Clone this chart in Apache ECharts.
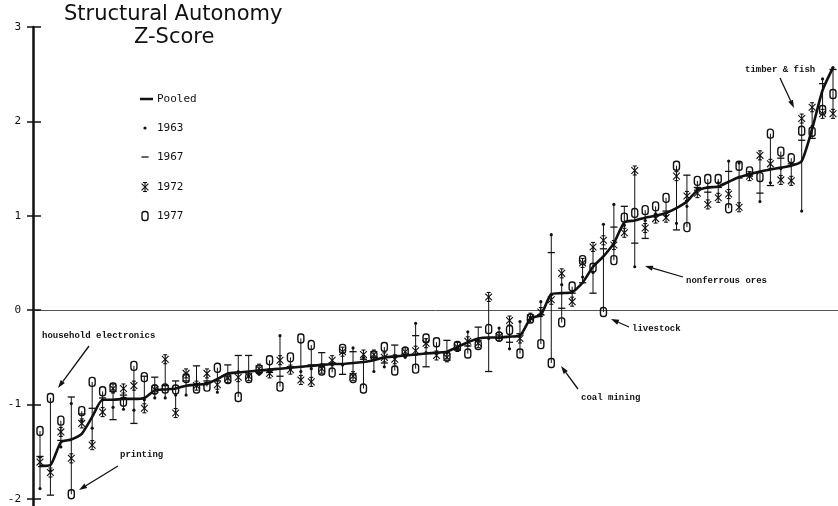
<!DOCTYPE html>
<html>
<head>
<meta charset="utf-8">
<script src="https://cdn.jsdelivr.net/npm/echarts@6/dist/echarts.min.js"></script>
<style>
  html, body { margin: 0; padding: 0; background: #fff; }
  #chart { width: 838px; height: 506px; }
</style>
</head>
<body>
<div id="chart"></div>
<script>
// Industries ordered by pooled structural-autonomy z-score (77 columns).
const pooled = [
  -1.65, -1.64, -1.40, -1.37, -1.31, -1.13, -0.95, -0.95, -0.94, -0.94,
  -0.93, -0.85, -0.84, -0.83, -0.80, -0.79, -0.78, -0.73, -0.67, -0.66,
  -0.65, -0.64, -0.63, -0.62, -0.61, -0.60, -0.59, -0.58, -0.57, -0.57,
  -0.56, -0.55, -0.53, -0.50, -0.49, -0.48, -0.47, -0.46, -0.45, -0.44,
  -0.39, -0.34, -0.30, -0.29, -0.29, -0.28, -0.27, -0.09, -0.05, 0.17,
  0.18, 0.19, 0.29, 0.46, 0.57, 0.71, 0.93, 0.95, 0.98, 1.00,
  1.03, 1.08, 1.15, 1.27, 1.30, 1.31, 1.36, 1.41, 1.44, 1.47,
  1.49, 1.51, 1.53, 1.58, 1.92, 2.33, 2.57
];
const y1963 = [
  -1.89, -1.70, -1.45, -0.99, -1.17, -1.25, -0.95, -1.03, -1.05, -1.06,
  -0.95, -0.93, -0.93, -0.90, -0.90, -0.78, -0.78, -0.87, -0.72, -0.65,
  -0.70, -0.68, -0.65, -0.27, -0.62, -0.65, -0.62, -0.58, -0.58, -0.58,
  -0.40, -0.50, -0.65, -0.60, -0.50, -0.50, -0.14, -0.45, -0.45, -0.45,
  -0.40, -0.23, -0.32, -0.30, -0.19, -0.41, -0.12, -0.08, 0.09, 0.80,
  0.27, 0.20, 0.35, 0.40, 0.91, 1.12, 0.90, 0.46, 0.95, 1.02,
  1.00, 0.92, 1.10, 1.28, 1.30, 1.35, 1.58, 1.56, 1.45, 1.15,
  1.35, 1.50, 1.55, 1.05, 1.95, 2.45, 2.57
];
const y1967 = [
  -1.55, -1.96, -1.38, -0.92, -1.10, -1.04, -0.93, -1.16, -0.90, -1.20,
  -0.70, -0.71, -0.80, -0.75, -0.75, -0.59, -0.75, -0.75, -0.58, -0.48,
  -0.48, -0.66, -0.66, -0.70, -0.60, -0.60, -0.58, -0.45, -0.56, -0.68,
  -0.44, -0.52, -0.50, -0.56, -0.37, -0.47, -0.27, -0.60, -0.45, -0.32,
  -0.42, -0.38, -0.18, -0.65, -0.30, -0.34, -0.25, -0.10, -0.05, 0.61,
  0.02, 0.18, 0.29, 0.18, 0.65, 0.88, 1.10, 0.71, 0.76, 1.00,
  1.05, 0.85, 1.43, 1.30, 1.25, 1.30, 1.47, 1.40, 1.42, 1.24,
  1.32, 1.61, 1.55, 1.80, 1.82, 2.40, 2.55
];
const y1972 = [
  -1.61, -1.72, -1.29, -1.57, -1.20, -1.43, -1.08, -0.83, -0.83, -0.80,
  -1.04, -0.84, -0.52, -1.09, -0.67, -0.80, -0.67, -0.79, -0.72, -0.71,
  -0.70, -0.62, -0.67, -0.53, -0.63, -0.74, -0.76, -0.62, -0.53, -0.44,
  -0.70, -0.47, -0.47, -0.50, -0.52, -0.44, -0.43, -0.35, -0.48, -0.50,
  -0.39, -0.33, -0.35, 0.14, -0.28, -0.11, -0.30, -0.08, -0.02, 0.11,
  0.39, 0.09, 0.50, 0.67, 0.74, 0.69, 0.82, 1.48, 0.87, 0.97,
  0.98, 1.42, 1.21, 1.24, 1.12, 1.19, 1.23, 1.09, 1.42, 1.64,
  1.55, 1.38, 1.37, 2.03, 2.15, 2.08, 2.08
];
const y1977 = [
  -1.28, -0.93, -1.17, -1.95, -1.07, -0.76, -0.86, -0.82, -0.97, -0.59,
  -0.71, -0.84, -0.83, -0.84, -0.72, -0.83, -0.81, -0.61, -0.73, -0.92,
  -0.72, -0.63, -0.53, -0.81, -0.50, -0.30, -0.37, -0.64, -0.66, -0.41,
  -0.72, -0.83, -0.48, -0.39, -0.64, -0.44, -0.62, -0.30, -0.34, -0.49,
  -0.38, -0.46, -0.37, -0.20, -0.28, -0.21, -0.46, -0.09, -0.36, -0.56,
  -0.13, 0.25, 0.53, 0.45, -0.02, 0.53, 0.98, 1.03, 1.06, 1.10,
  1.19, 1.53, 0.88, 1.37, 1.39, 1.39, 1.08, 1.53, 1.47, 1.41,
  1.87, 1.68, 1.61, 1.90, 1.89, 2.12, 2.29
];
const yTicks = [-2, -1, 0, 1, 2, 3];

const INK = '#111';
const MONO = '"DejaVu Sans Mono", "Liberation Mono", monospace';
const SANS = '"DejaVu Sans", sans-serif';

// ---- glyph builders (pixel space) ----
function seg(x1, y1, x2, y2, w) {
  return { type: 'line', shape: { x1, y1, x2, y2 }, style: { stroke: INK, lineWidth: w || 1.1 } };
}
function dotGlyph(x, y) {
  return { type: 'circle', shape: { cx: x, cy: y, r: 1.6 }, style: { fill: INK } };
}
function dashGlyph(x, y) {
  return seg(x - 3.6, y, x + 3.6, y, 1.3);
}
function starGlyph(x, y) {
  return {
    type: 'group',
    children: [
      seg(x, y - 4.5, x, y + 4.5),
      seg(x - 3.4, y - 3.4, x + 3.4, y + 3.4),
      seg(x + 3.4, y - 3.4, x - 3.4, y + 3.4),
      seg(x - 2, y - 4.5, x + 2, y - 4.5),
      seg(x - 2, y + 4.5, x + 2, y + 4.5)
    ]
  };
}
function ovalGlyph(x, y) {
  return {
    type: 'rect',
    shape: { x: x - 3, y: y - 4.5, width: 6, height: 9, r: 2.6 },
    style: { fill: 'none', stroke: INK, lineWidth: 1.4 }
  };
}

function yearSeries(name, values, glyph, z) {
  return {
    type: 'custom',
    name,
    coordinateSystem: 'cartesian2d',
    data: values.map((v, i) => [i, v]),
    encode: { x: 0, y: 1 },
    z,
    silent: true,
    renderItem: (params, api) => {
      const p = api.coord([api.value(0), api.value(1)]);
      return glyph(p[0], p[1]);
    }
  };
}

// vertical span covering the four survey years of each industry
const spans = pooled.map((_, i) => {
  const v = [y1963[i], y1967[i], y1972[i], y1977[i]];
  return [i, Math.min(...v), Math.max(...v)];
});

function arrow(x1, y1, x2, y2) {
  const ang = Math.atan2(y2 - y1, x2 - x1);
  const len = 8, half = 2.6;
  const bx = x2 - len * Math.cos(ang), by = y2 - len * Math.sin(ang);
  const nx = -Math.sin(ang) * half, ny = Math.cos(ang) * half;
  return [
    { type: 'line', shape: { x1, y1, x2: bx, y2: by }, style: { stroke: INK, lineWidth: 1.3 } },
    { type: 'polygon', shape: { points: [[x2, y2], [bx + nx, by + ny], [bx - nx, by - ny]] }, style: { fill: INK } }
  ];
}
function note(text, x, y) {
  return {
    type: 'text', x, y,
    style: { text, fill: INK, font: 'bold 9px "Liberation Mono", monospace', verticalAlign: 'middle' }
  };
}
function legendText(text, y) {
  return {
    type: 'text', x: 157, y,
    style: { text, fill: INK, font: '11px ' + MONO, verticalAlign: 'middle' }
  };
}

const chart = echarts.init(document.getElementById('chart'), null, { renderer: 'canvas' });

chart.setOption({
  animation: false,
  backgroundColor: '#fff',
  title: [
    {
      text: 'Structural Autonomy', left: 64, top: 4, padding: 0,
      textStyle: { fontFamily: SANS, fontSize: 21, fontWeight: 'normal', color: INK }
    },
    {
      text: 'Z-Score', left: 134, top: 27, padding: 0,
      textStyle: { fontFamily: SANS, fontSize: 21, fontWeight: 'normal', color: INK }
    }
  ],
  grid: { left: 33, right: 0, top: 27, bottom: 0, containLabel: false },
  xAxis: {
    type: 'value',
    min: -0.671,
    max: 76.479,
    axisLine: { show: true, onZero: true, lineStyle: { color: '#555', width: 1 } },
    axisTick: { show: false },
    axisLabel: { show: false },
    splitLine: { show: false }
  },
  yAxis: [
    {
      type: 'value',
      min: -2.075,
      max: 3,
      axisLine: { show: true, onZero: false, lineStyle: { color: INK, width: 2.5 } },
      axisTick: { show: true, length: 6, customValues: yTicks, lineStyle: { color: INK, width: 1.5 } },
      axisLabel: {
        show: true, customValues: yTicks, margin: 12, color: INK,
        fontFamily: MONO, fontSize: 11
      },
      splitLine: { show: false }
    },
    {
      type: 'value',
      min: -2.075,
      max: 3,
      position: 'left',
      axisLine: { show: false, onZero: false },
      axisTick: { show: true, inside: true, length: 8, customValues: yTicks, lineStyle: { color: INK, width: 1.5 } },
      axisLabel: { show: false },
      splitLine: { show: false }
    }
  ],
  series: [
    {
      type: 'custom',
      name: 'range',
      coordinateSystem: 'cartesian2d',
      data: spans,
      encode: { x: 0, y: [1, 2] },
      z: 2,
      silent: true,
      renderItem: (params, api) => {
        const lo = api.coord([api.value(0), api.value(1)]);
        const hi = api.coord([api.value(0), api.value(2)]);
        return seg(lo[0], lo[1], hi[0], hi[1], 1);
      }
    },
    yearSeries('1963', y1963, dotGlyph, 3),
    yearSeries('1967', y1967, dashGlyph, 3),
    yearSeries('1972', y1972, starGlyph, 4),
    yearSeries('1977', y1977, ovalGlyph, 4),
    {
      type: 'line',
      name: 'Pooled',
      data: pooled.map((v, i) => [i, v]),
      showSymbol: false,
      smooth: 0.2,
      z: 5,
      silent: true,
      lineStyle: { color: INK, width: 2.6 }
    },
    {
      // keeps the inner-tick axis bound to a series
      type: 'line', yAxisIndex: 1, data: [], silent: true
    }
  ],
  graphic: [
    // legend
    seg(140, 99, 153, 99, 2.5),
    legendText('Pooled', 99),
    dotGlyph(145, 128),
    legendText('1963', 128),
    dashGlyph(145, 157),
    legendText('1967', 157),
    starGlyph(145, 187),
    legendText('1972', 187),
    ovalGlyph(145, 216),
    legendText('1977', 216),
    // notes
    note('household electronics', 42, 336),
    ...arrow(89, 346, 58, 388),
    note('printing', 120, 455),
    ...arrow(118, 466, 79, 490),
    note('coal mining', 581, 398),
    ...arrow(578, 389, 561, 366),
    note('livestock', 632, 329),
    ...arrow(629, 327, 611, 319),
    note('nonferrous ores', 686, 281),
    ...arrow(683, 277, 645, 266),
    note('timber & fish', 745, 70),
    ...arrow(780, 78, 794, 108)
  ]
});
</script>
</body>
</html>
